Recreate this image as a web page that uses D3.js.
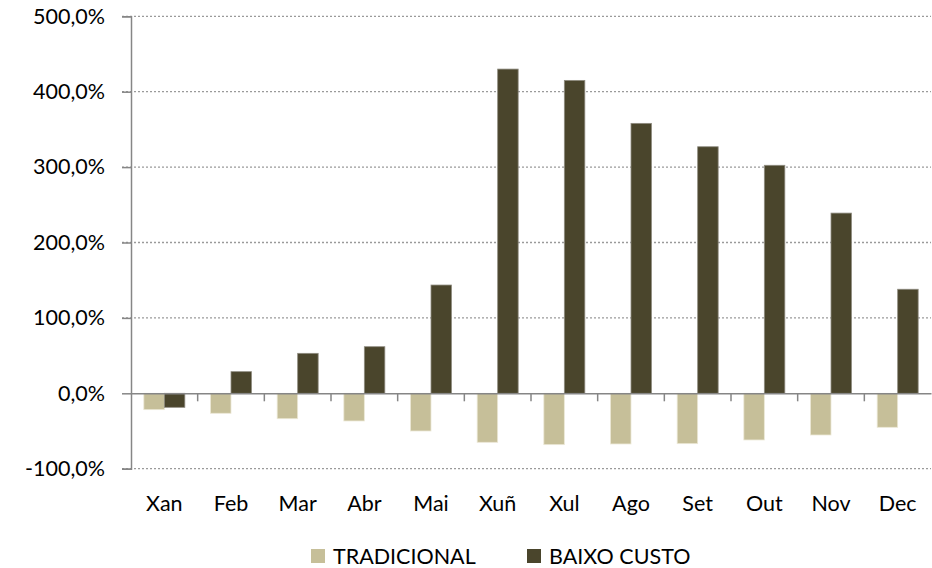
<!DOCTYPE html>
<html>
<head>
<meta charset="utf-8">
<script src="https://cdn.jsdelivr.net/npm/d3@7/dist/d3.min.js"></script>
<style>
  html, body { margin: 0; padding: 0; background: #fff; }
  svg { display: block; font-family: Lato, "Open Sans", "Liberation Sans", sans-serif; }
</style>
</head>
<body>
<svg id="chart" width="932" height="568"></svg>
<script>
const months = ["Xan","Feb","Mar","Abr","Mai","Xuñ","Xul","Ago","Set","Out","Nov","Dec"];
const seriesNames = ["TRADICIONAL", "BAIXO CUSTO"];
const tradicional = [-21.7, -26.5, -33.7, -36.7, -50.0, -65.0, -68.1, -67.2, -66.8, -61.9, -55.3, -45.1];
const baixoCusto = [-18.6, 28.7, 53.0, 61.8, 143.6, 430.0, 415.0, 358.0, 327.0, 302.4, 239.0, 138.0];
const yTicks = [-100, 0, 100, 200, 300, 400, 500];
const colors = ["#C6BF99", "#4A452C"];

const FS = 21.5;
const svg = d3.select("#chart");
const mLeft = 131, mRight = 931, mTop = 16.3, mBottom = 468.7;

const x = d3.scaleBand().domain(months).range([mLeft, mRight]).paddingInner(0).paddingOuter(0);
const y = d3.scaleLinear().domain([-100, 500]).range([mBottom, mTop]);

const fmt = v => d3.format(".1f")(v).replace("\u2212", "-").replace(".", ",") + "%";

// gridlines
svg.append("g").selectAll("line").data(yTicks.filter(t => t !== 0)).join("line")
  .attr("x1", mLeft - 9).attr("x2", mRight)
  .attr("y1", d => y(d)).attr("y2", d => y(d))
  .attr("stroke", "#9a9a9a").attr("stroke-width", 1.3).attr("stroke-dasharray", "2,2");

// y axis
const yAxis = d3.axisLeft(y).tickValues(yTicks).tickFormat(fmt).tickSize(9).tickPadding(17);
const gy = svg.append("g").attr("transform", `translate(${mLeft},0)`).call(yAxis);
gy.select(".domain").attr("stroke", "#868686").attr("stroke-width", 1.5);
gy.selectAll(".tick line").attr("stroke", "#868686").attr("stroke-width", 1.5);
gy.selectAll(".tick text").attr("font-size", FS).attr("fill", "#000")
  .attr("font-family", "Lato, 'Open Sans', sans-serif");

// bars
const bw = 20.5;
const series = [tradicional, baixoCusto];
series.forEach((vals, si) => {
  svg.append("g").selectAll("rect").data(vals).join("rect")
    .attr("x", (d, i) => x(months[i]) + x.bandwidth() / 2 - bw + si * bw)
    .attr("width", bw)
    .attr("y", d => Math.min(y(d), y(0)))
    .attr("height", d => Math.abs(y(d) - y(0)))
    .attr("fill", colors[si])
    .attr("stroke", si === 0 ? "#ece8d6" : "#8f8c80")
    .attr("stroke-width", 0.8);
});

// x axis at zero
const xAxis = d3.axisBottom(x).tickSize(0).tickFormat(() => "");
const gx = svg.append("g").attr("transform", `translate(0,${y(0)})`).call(xAxis);
gx.select(".domain").attr("stroke", "#868686").attr("stroke-width", 1.5);
// category boundary ticks
svg.append("g").selectAll("line").data(months.slice(1)).join("line")
  .attr("x1", d => x(d)).attr("x2", d => x(d))
  .attr("y1", y(0)).attr("y2", y(0) + 8)
  .attr("stroke", "#868686").attr("stroke-width", 1.5);

// month labels
svg.append("g").selectAll("text").data(months).join("text")
  .attr("x", d => x(d) + x.bandwidth() / 2)
  .attr("y", 511)
  .attr("text-anchor", "middle")
  .attr("font-size", FS)
  .attr("fill", "#000")
  .text(d => d);

// legend
const legendX = [311, 527];
const lg = svg.append("g");
seriesNames.forEach((name, i) => {
  lg.append("rect").attr("x", legendX[i]).attr("y", 549).attr("width", 14).attr("height", 14)
    .attr("fill", colors[i]);
  lg.append("text").attr("x", legendX[i] + 22).attr("y", 564)
    .attr("font-size", FS).attr("fill", "#000").text(name);
});
</script>
</body>
</html>
